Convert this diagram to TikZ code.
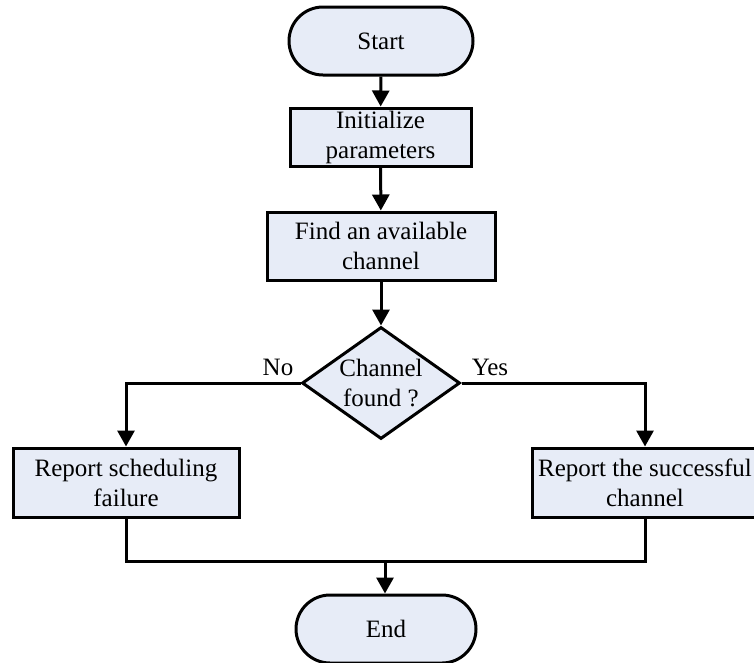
\documentclass[tikz,border=0pt]{standalone}
\usepackage{fontspec}
\setmainfont{Liberation Serif}
\newfontfamily\chartfont{Liberation Serif}
\usetikzlibrary{shapes.geometric,shapes.misc,arrows.meta}

\definecolor{boxfill}{RGB}{231,236,247}

\begin{document}
\begin{tikzpicture}[x=1pt,y=-1pt,
  every node/.style={font=\chartfont\fontsize{25}{30}\selectfont, align=center, inner sep=0pt},
  base/.style={draw=black, line width=3pt, fill=boxfill},
  terminal/.style={base, rounded rectangle, minimum width=184pt, minimum height=68pt},
  process/.style={base, rectangle},
  decision/.style={base, diamond, aspect=1.41, minimum width=158pt, minimum height=112pt},
  link/.style={line width=3pt, line join=miter},
  flow/.style={link, -{Triangle[length=16pt,width=17pt]}}
]
\useasboundingbox (0,0) rectangle (754,662);
\clip (0,0) rectangle (754,662);

% main column
\node[terminal] (start) at (381,41) {Start};
\node[process, minimum width=181pt, minimum height=58pt] (init) at (380.5,137) {Initialize\\parameters};
\node[process, minimum width=228pt, minimum height=68pt] (find) at (381,246) {Find an available\\channel};
\node[decision] (check) at (381,383) {Channel\\found ?};

% outcome boxes
\node[process, minimum width=226pt, minimum height=69pt] (fail) at (126,482.5) {Report scheduling\\failure};
\node[process, minimum width=226pt, minimum height=69pt] (ok) at (645,482.5) {Report the successful\\channel};

\node[terminal, minimum width=180pt] (stop) at (386,629) {End};

% branch labels
\node (nolabel) at (278,367) {No};
\node (yeslabel) at (490,367) {Yes};

% connectors
\draw[flow] (start) -- (init);
\draw[flow] (init) -- (find);
\draw[flow] (find) -- (check);
\draw[flow] (check.west) -| (fail.north);
\draw[flow] (check.east) -| (ok.north);

\coordinate (merge) at (385,561);
\draw[link] (fail.south) |- (merge) -| (ok.south);
\draw[flow] (merge) -- (merge |- stop.north);
\end{tikzpicture}
\end{document}
